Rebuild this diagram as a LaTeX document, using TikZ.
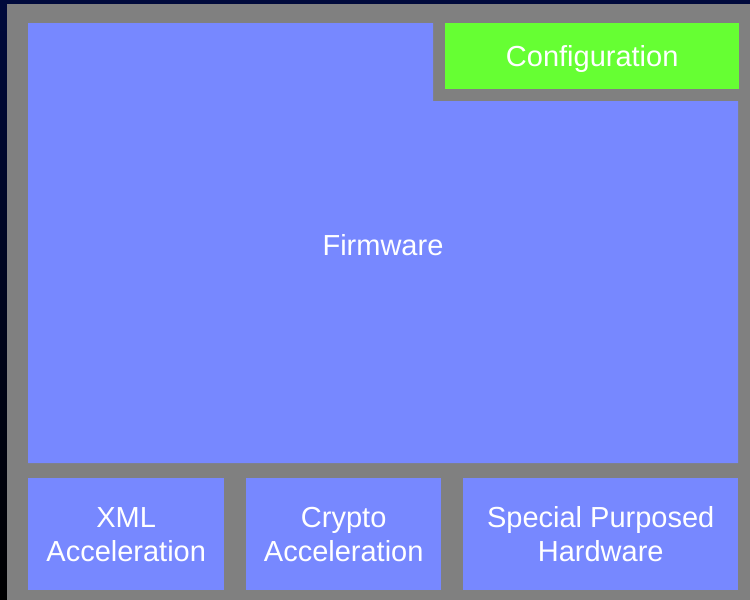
\documentclass[tikz,border=0pt]{standalone}
\usepackage{fontspec}
\setmainfont{Liberation Sans}
\definecolor{bgnavy}{RGB}{0,10,60}
\definecolor{bgmid}{RGB}{0,70,140}
\definecolor{panelgray}{RGB}{128,128,128}
\definecolor{blockblue}{RGB}{119,136,255}
\definecolor{cfggreen}{RGB}{102,255,51}
\tikzset{
  blockbox/.style={fill=blockblue, draw=none, inner sep=0pt, anchor=north west,
    text=white, align=center, font=\fontsize{29}{34}\selectfont},
  cfgbox/.style={blockbox, fill=cfggreen, text depth=0pt},
  lbl/.style={text=white, font=\fontsize{29}{34}\selectfont, align=center}
}
\begin{document}
\begin{tikzpicture}[x=1pt,y=-1pt]
\useasboundingbox (0,0) rectangle (750,600);
% background
\shade[top color=bgnavy, middle color=bgmid, bottom color=black] (0,0) rectangle (750,600);
\fill[bgnavy] (0,0) rectangle (750,4);
% gray panel
\fill[panelgray] (7,4) rectangle (750,600);
% firmware
\fill[blockblue] (28,23) -- (433,23) -- (433,101) -- (738,101) -- (738,463) -- (28,463) -- cycle;
\node[lbl] (firmware) at (383,245) {Firmware};
% configuration
\node[cfgbox, minimum width=294pt, minimum height=66pt] (config) at (445,23) {Configuration};
% bottom row
\node[blockbox, minimum width=196pt, minimum height=112pt] (xml) at (28,478) {XML\\Acceleration};
\node[blockbox, minimum width=195pt, minimum height=112pt] (crypto) at (246,478) {Crypto\\Acceleration};
\node[blockbox, minimum width=275pt, minimum height=112pt] (special) at (463,478) {Special Purposed\\Hardware};
\end{tikzpicture}
\end{document}
